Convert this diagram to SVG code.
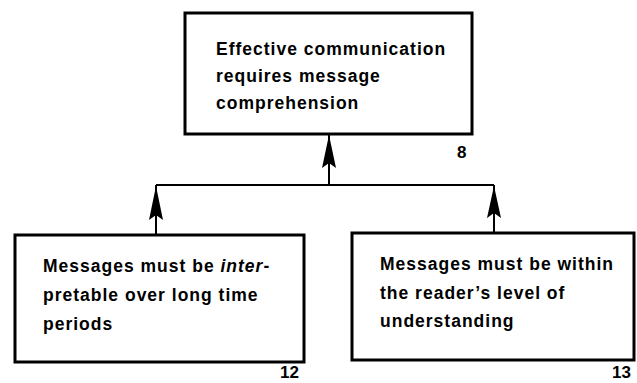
<svg xmlns="http://www.w3.org/2000/svg" width="637" height="383" viewBox="0 0 637 383">
  <defs>
    <style>
      .box { fill: #fff; stroke: #000; stroke-width: 3; }
      .txt { font-family: "Liberation Sans", Arial, sans-serif; font-weight: bold; font-size: 17.5px; fill: #000; letter-spacing: 1px; }
      .num { font-family: "Liberation Sans", Arial, sans-serif; font-weight: bold; font-size: 17px; fill: #000; }
      .wire { fill: none; stroke: #000; stroke-width: 2; }
      .head { fill: #000; }
    </style>
  </defs>
  <rect width="637" height="383" fill="#fff"/>

  <g id="connectors">
    <path class="wire" d="M156,185 L494,185"/>
    <path class="wire" d="M329,185 L329,135"/>
    <path class="wire" d="M156,234 L156,185"/>
    <path class="wire" d="M494,232 L494,185"/>
    <!-- arrowheads -->
    <path class="head" d="M329,135 L336,168 L329,163 L322,168 Z"/>
    <path class="head" d="M156,186 L163,220 L156,215 L149,220 Z"/>
    <path class="head" d="M494,186 L501,218 L494,213 L487,218 Z"/>
  </g>

  <g id="node-8">
    <rect class="box" x="185" y="13" width="287" height="121"/>
    <text class="txt" x="216" y="55">Effective communication</text>
    <text class="txt" x="216" y="82">requires message</text>
    <text class="txt" x="216" y="109">comprehension</text>
    <text class="num" x="457" y="158">8</text>
  </g>

  <g id="node-12">
    <rect class="box" x="15" y="235" width="289" height="127"/>
    <text class="txt" x="43" y="272">Messages must be <tspan font-style="italic">inter</tspan>-</text>
    <text class="txt" x="43" y="301">pretable over long time</text>
    <text class="txt" x="43" y="330">periods</text>
    <text class="num" x="280" y="378">12</text>
  </g>

  <g id="node-13">
    <rect class="box" x="352" y="233" width="282" height="127"/>
    <text class="txt" x="380" y="270" letter-spacing="0.7">Messages must be within</text>
    <text class="txt" x="380" y="299" letter-spacing="0.7">the reader’s level of</text>
    <text class="txt" x="380" y="327" letter-spacing="0.7">understanding</text>
    <text class="num" x="612" y="378">13</text>
  </g>
</svg>
